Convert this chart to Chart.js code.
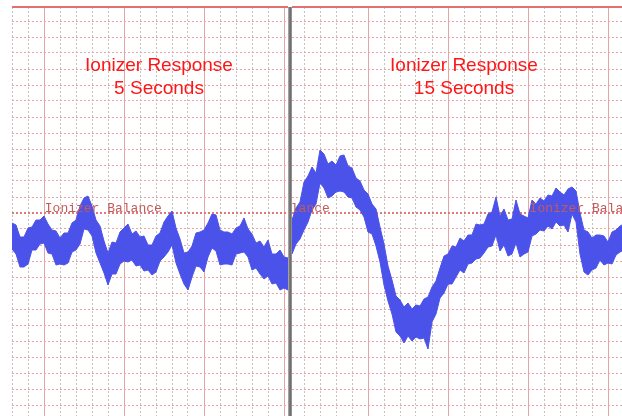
<!DOCTYPE html>
<html>
<head>
<meta charset="utf-8">
<script src="https://cdn.jsdelivr.net/npm/chart.js@4.4.0/dist/chart.umd.min.js"></script>
<style>
  html, body { margin: 0; padding: 0; background: #fff; overflow: hidden; width: 622px; height: 416px; }
  #left { position: absolute; left: 0; top: 0; }
  #right { position: absolute; left: 292px; top: 0; }
  #divider { position: absolute; left: 288px; top: 7px; width: 4px; height: 409px;
             background: linear-gradient(to right, #b8b8b8, #7a7a7a 35%, #6c6c6c 70%, #a8a8a8); }
</style>
</head>
<body>
<canvas id="left" width="288" height="416"></canvas>
<div id="divider"></div>
<canvas id="right" width="330" height="416"></canvas>
<script>
// Sweep time is in screen divisions, balance voltage in volts (8 V per division).
const sampleStep = 0.25;          // divisions between samples
const leftStart = 0;
const rightStart = 0.25;
const balanceLevel = 0;           // the "Ionizer Balance" reference level
const screenTop = 103;            // voltage at the top edge of the screen
const screenBottom = -101.5;      // voltage at the bottom edge of the screen
const markerText = 'Ionizer Balance';

// 5 s response: upper / lower edge of the noisy trace (V)
const leftUpper = [-5, -6, -12, -12, -7.5, -7, -3.5, -3.5, -1.5, -5.5,
  -8.5, -9, -12.5, -10, -10, -5, -3.5, 3.5, 7.5, 8.5,
  3.5, -3.5, -6.5, -14, -20, -14.5, -15, -9.5, -7.5, -5.5,
  -10.5, -9, -12, -11.5, -16, -16, -11.5, -10, -4.5, -1.5,
  1, -7.5, -13, -20, -19.5, -16.5, -10, -9.5, -8.5, -5,
  -0.5, -1, -8.5, -9.5, -9.5, -10.5, -7.5, -6.5, -2.5, -8,
  -10.5, -15, -14, -17, -13.5, -20.5, -20.5, -18.5, -22, -22.5];
const leftLower = [-18, -20.5, -27, -27, -25.5, -18.5, -18.5, -15.5, -15, -20,
  -20.5, -26, -25.5, -26, -25, -19.5, -18.5, -15.5, -8, -8.5,
  -11.5, -20, -25, -30, -36, -30.5, -30.5, -25.5, -24, -24.5,
  -23.5, -26.5, -26, -29, -28.5, -31, -29.5, -24, -22, -19.5,
  -16, -25, -30.5, -35.5, -38.5, -32, -26.5, -27, -29.5, -22,
  -17.5, -19, -26, -25.5, -25.5, -26, -20.5, -20, -19.5, -22,
  -28.5, -27.5, -30.5, -33, -31.5, -35.5, -35, -38.5, -37.5, -38.5];

// 15 s response: upper / lower edge of the noisy trace (V)
const rightUpper = [-3.5, 2.5, 5.5, 15.5, 18.5, 23, 20, 31.5, 29.5, 24.5,
  26, 24, 28.5, 29, 23.5, 22.5, 17.5, 16, 11.5, 9.5,
  4.5, 2, -7, -15.5, -26.5, -33.5, -41.5, -43.5, -47, -45,
  -48, -46, -46.5, -43, -42, -37, -34, -27.5, -21.5, -20.5,
  -16.5, -17, -12.5, -14, -11, -11, -5.5, -6, -5.5, -0.5,
  0.5, 8, -1.5, 2, -3.5, -3, 6.5, -0.5, -1.5, -2.5,
  6.5, 4.5, 7.5, 6, 9, 8.5, 12.5, 10.5, 9, 12,
  13, 11, 0, -8.5, -9.5, -12.5, -11, -11, -11.5, -14.5,
  -9.5, -8.5, -6.5, -5.5];
const rightLower = [-20.5, -15.5, -13, -8.5, -4.5, 1.5, 4.5, 15, 12.5, 7.5,
  8.5, 10.5, 11, 10.5, 8, 7.5, 3, 1.5, -2, -9.5,
  -10.5, -16.5, -24.5, -36, -44, -50.5, -59.5, -61.5, -65, -61.5,
  -64, -62, -63, -62.5, -68, -54.5, -50.5, -42.5, -40, -35.5,
  -35.5, -32, -28.5, -30, -25.5, -25, -23, -22.5, -20, -17,
  -16.5, -11, -19, -16, -21.5, -20.5, -15, -22, -20.5, -19.5,
  -11.5, -10.5, -8.5, -9, -6.5, -8, -4.5, -6.5, -6, -9.5,
  -0.5, -4.5, -20.5, -29.5, -31, -28.5, -27.5, -23.5, -26, -25,
  -25.5, -21, -19.5, -18.5];

// Heavy (every fifth) vertical divisions in each panel
const leftMajorTimes = [2, 7, 12, 17];
const rightMajorTimes = [5, 10, 15, 20];
// Where the balance caption is printed along each sweep
const leftMarkerTimes = [2.05];
const rightMarkerTimes = [-4.7, 15.1];

const panelTitles = {
  left: ['Ionizer Response', '5 Seconds'],
  right: ['Ionizer Response', '15 Seconds']
};

const traceColor = '#4b52ea';

function toPoints(values, start) {
  return values.map((v, i) => ({ x: start + i * sampleStep, y: v }));
}

const overlayText = {
  id: 'overlayText',
  afterDatasetsDraw(chart, args, opts) {
    const { ctx, chartArea, scales } = chart;
    ctx.save();
    ctx.beginPath();
    ctx.rect(chartArea.left, chartArea.top, chartArea.right - chartArea.left, chartArea.bottom - chartArea.top);
    ctx.clip();
    // balance caption sitting on the reference line
    ctx.font = '13px "Liberation Mono", "DejaVu Sans Mono", monospace';
    ctx.fillStyle = '#c45a5a';
    ctx.textAlign = 'left';
    ctx.textBaseline = 'alphabetic';
    const y0 = scales.y.getPixelForValue(balanceLevel);
    opts.markers.forEach(t => ctx.fillText(markerText, scales.x.getPixelForValue(t), y0 - 1));
    // panel heading
    ctx.font = '19px "Liberation Sans", Arial, sans-serif';
    ctx.fillStyle = '#ff1616';
    ctx.textAlign = 'center';
    opts.title.forEach((line, i) => ctx.fillText(line, opts.titleX, opts.titleY + i * 23));
    ctx.restore();
  }
};

function hiddenAxis(position, extra) {
  const horizontal = position === 'top' || position === 'bottom';
  return Object.assign({
    type: 'linear', position: position,
    ticks: { display: false },
    border: { display: false },
    afterFit: s => { if (horizontal) { s.height = 0; } else { s.width = 0; } }
  }, extra);
}

function buildScales(xMin, xMax, majors) {
  return {
    x: hiddenAxis('bottom', {
      min: xMin, max: xMax,
      ticks: { display: false, stepSize: 1, includeBounds: false },
      grid: {
        drawTicks: false,
        color: c => majors.includes(c.tick.value) ? 'rgba(0,0,0,0)' : 'rgba(192,180,180,0.85)'
      },
      border: { display: false, dash: [2, 2] }
    }),
    xMajor: hiddenAxis('top', {
      min: xMin, max: xMax,
      afterBuildTicks: s => { s.ticks = majors.map(v => ({ value: v })); },
      grid: { drawTicks: false, color: '#e6a4a4' }
    }),
    y: hiddenAxis('left', {
      min: screenBottom, max: screenTop,
      ticks: { display: false, stepSize: 8, includeBounds: false },
      grid: {
        drawTicks: false,
        color: c => c.tick.value === balanceLevel ? 'rgba(0,0,0,0)' : 'rgba(234,160,160,0.95)'
      },
      border: { display: false, dash: [2, 2] }
    }),
    yZero: hiddenAxis('right', {
      min: screenBottom, max: screenTop,
      afterBuildTicks: s => { s.ticks = [{ value: balanceLevel }]; },
      grid: { drawTicks: false, color: '#e07a7a', lineWidth: 2 },
      border: { display: false, dash: [2, 2] }
    }),
    yTop: hiddenAxis('right', {
      min: screenBottom, max: screenTop,
      afterBuildTicks: s => { s.ticks = [{ value: screenTop }]; },
      grid: { drawTicks: false, color: '#e27070', lineWidth: 2 }
    })
  };
}

function makeChart(id, upper, lower, start, xMin, xMax, majors, markers, title, titleX, padLeft) {
  return new Chart(document.getElementById(id), {
    type: 'line',
    data: {
      datasets: [
        { label: 'upper', data: toPoints(upper, start), borderColor: traceColor, borderWidth: 1,
          pointRadius: 0, tension: 0, fill: false },
        { label: 'lower', data: toPoints(lower, start), borderColor: traceColor, borderWidth: 1,
          pointRadius: 0, tension: 0, fill: '-1', backgroundColor: traceColor }
      ]
    },
    options: {
      responsive: false,
      animation: false,
      devicePixelRatio: 1,
      layout: { padding: { left: padLeft, top: 7, right: 0, bottom: 0 } },
      scales: buildScales(xMin, xMax, majors),
      plugins: {
        legend: { display: false },
        tooltip: { enabled: false },
        overlayText: { markers: markers, title: title, titleX: titleX, titleY: 71 }
      }
    },
    plugins: [overlayText]
  });
}

makeChart('left', leftUpper, leftLower, leftStart, 0, 17.25, leftMajorTimes, leftMarkerTimes,
  panelTitles.left, 159, 12);
makeChart('right', rightUpper, rightLower, rightStart, 0.25, 20.875, rightMajorTimes, rightMarkerTimes,
  panelTitles.right, 172, 0);
</script>
</body>
</html>
